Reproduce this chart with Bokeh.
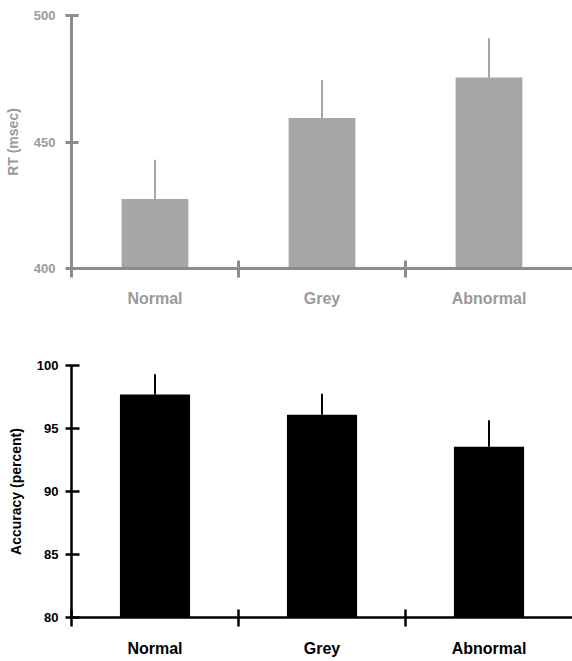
from bokeh.plotting import figure
from bokeh.models import Range1d, LinearAxis, FixedTicker, ColumnDataSource
from bokeh.layouts import column
from bokeh.embed import file_html
from bokeh.resources import INLINE

categories = ["Normal", "Grey", "Abnormal"]
rt_mean = [427.5, 459.5, 475.5]
rt_err = [15.5, 15.0, 15.5]
rt_ticks = [400, 450, 500]
acc_mean = [97.7, 96.1, 93.55]
acc_err = [1.6, 1.65, 2.1]
acc_ticks = [80, 85, 90, 95, 100]

FONT = "Liberation Sans, Arial, sans-serif"


def make_panel(means, errs, ticks, ylo, yhi, ylabel, bar_color, axis_color,
               text_color, height, top_border, bottom_border, bar_width, line_w,
               left_border, lab_standoff, ytick_in, ytick_out, ylab_standoff):
    n = len(categories)
    centers = [i + 0.5 for i in range(n)]
    p = figure(width=572, height=height, x_range=Range1d(0, n),
               y_range=Range1d(ylo, yhi), output_backend="svg", toolbar_location=None,
               x_axis_location=None, y_axis_location=None,
               min_border_left=left_border, min_border_right=0,
               min_border_top=top_border, min_border_bottom=bottom_border)
    p.outline_line_color = None
    p.grid.grid_line_color = None

    src = ColumnDataSource(dict(x=centers, mean=means,
                                top=[m + e for m, e in zip(means, errs)]))
    p.vbar(x="x", top="mean", bottom=ylo, width=bar_width, source=src,
           fill_color=bar_color, line_color=None)
    p.segment(x0="x", y0="mean", x1="x", y1="top", source=src,
              line_color=bar_color, line_width=2)

    yaxis = LinearAxis(ticker=FixedTicker(ticks=ticks, minor_ticks=[]))
    yaxis.axis_line_color = axis_color
    yaxis.axis_line_width = line_w
    yaxis.major_tick_line_color = axis_color
    yaxis.major_tick_line_width = line_w
    yaxis.major_tick_in = ytick_in
    yaxis.major_tick_out = ytick_out
    yaxis.minor_tick_line_color = None
    yaxis.major_label_text_font = FONT
    yaxis.major_label_text_font_style = "bold"
    yaxis.major_label_text_font_size = "13px"
    yaxis.major_label_text_color = text_color
    yaxis.major_label_standoff = ylab_standoff
    yaxis.axis_label = ylabel
    yaxis.axis_label_text_font = FONT
    yaxis.axis_label_text_font_style = "bold"
    yaxis.axis_label_text_font_size = "14px"
    yaxis.axis_label_text_color = text_color
    yaxis.axis_label_standoff = 10
    p.add_layout(yaxis, "left")

    # category boundary ticks (left edge and between categories)
    sep = LinearAxis(ticker=FixedTicker(ticks=list(range(n)), minor_ticks=[]))
    sep.axis_line_color = axis_color
    sep.axis_line_width = line_w
    sep.major_tick_line_color = axis_color
    sep.major_tick_line_width = line_w
    sep.major_tick_in = 8
    sep.major_tick_out = 9
    sep.minor_tick_line_color = None
    sep.major_label_text_font_size = "0px"
    sep.major_label_text_alpha = 0
    sep.major_label_standoff = 0
    p.add_layout(sep, "below")

    cax = LinearAxis(ticker=FixedTicker(ticks=centers, minor_ticks=[]))
    cax.major_label_overrides = {c: name for c, name in zip(centers, categories)}
    cax.axis_line_color = None
    cax.major_tick_line_color = None
    cax.minor_tick_line_color = None
    cax.major_tick_out = 0
    cax.major_tick_in = 0
    cax.major_label_text_font = FONT
    cax.major_label_text_font_style = "bold"
    cax.major_label_text_font_size = "16px"
    cax.major_label_text_color = text_color
    cax.major_label_standoff = lab_standoff
    p.add_layout(cax, "below")
    return p


p1 = make_panel(rt_mean, rt_err, rt_ticks, 400, 500, "RT (msec)",
                "#a6a6a6", "#8c8c8c", "#9a9a9a", 330, 15, 62, 0.4, 3, 70, 12, 7, 6, 10)
p2 = make_panel(acc_mean, acc_err, acc_ticks, 80, 100, "Accuracy (percent)",
                "#000000", "#000000", "#000000", 329, 35, 41, 0.42, 2.5, 71, 13, 8, 6, 7)

layout = column(p1, p2)
open("out.html", "w").write(file_html(layout, INLINE))
